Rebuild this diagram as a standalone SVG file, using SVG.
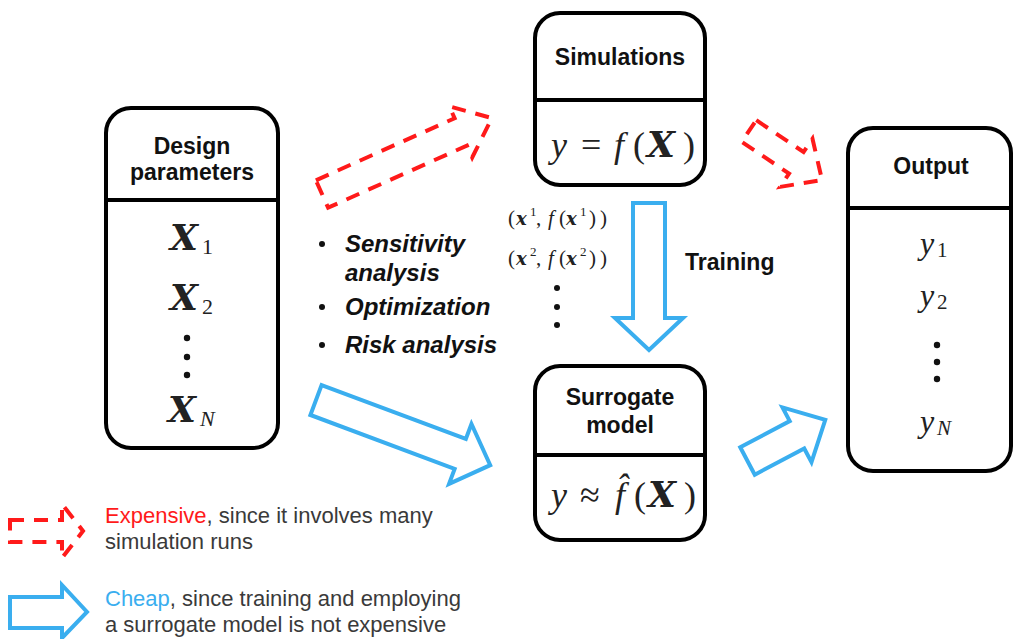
<svg xmlns="http://www.w3.org/2000/svg" width="1013" height="639" viewBox="0 0 1013 639">
<style>
.box{fill:#fff;stroke:#000;stroke-width:4}
.div{stroke:#000;stroke-width:4}
.title{font-family:"Liberation Sans",Arial,sans-serif;font-weight:bold;font-size:23px;fill:#111;text-anchor:middle}
.lbl{font-family:"Liberation Sans",Arial,sans-serif;font-weight:bold;font-size:23px;fill:#111}
.math{font-family:"Liberation Serif","Times New Roman",serif;fill:#222}
.bx{font-family:"DejaVu Serif",serif;font-weight:bold;font-style:italic}
.it{font-style:italic}
.red{fill:none;stroke:#ff1a1a;stroke-width:4;stroke-dasharray:14 10}
.blue{fill:#fff;stroke:#3aaeef;stroke-width:4;stroke-linejoin:miter}
.bul{font-family:"Liberation Sans",Arial,sans-serif;font-weight:bold;font-style:italic;font-size:24px;fill:#111}
.leg{font-family:"Liberation Sans",Arial,sans-serif;font-size:22px;fill:#3a3a3a}
</style>
<rect width="1013" height="639" fill="#fff"/>
<g id="connectors">
  <path class="red" transform="translate(322,194) rotate(-24.1)" d="M0,-15 H152 V-28 L186,0 L152,28 V15 H0 Z"/>
  <path class="red" transform="translate(749,131) rotate(33.9)" d="M0,-13 H57 V-29 L88,0 L57,29 V13 H0 Z"/>
  <path class="blue" transform="translate(316,400) rotate(20.5)" d="M0,-16 H154 V-32 L186,0 L154,32 V16 H0 Z"/>
  <path class="blue" d="M633,203 H665 V318 H683 L649,350 L615,318 H633 Z"/>
  <path class="blue" transform="translate(747.5,461) rotate(-27.9)" d="M0,-15.5 H56 V-31 L88,0 L56,31 V15.5 H0 Z"/>
</g>
<g id="design">
  <rect class="box" x="106" y="108" width="172" height="340" rx="25"/>
  <line class="div" x1="106" y1="200" x2="278" y2="200"/>
  <text class="title" x="192" y="154">Design</text>
  <text class="title" x="192" y="180">parameters</text>
  <text class="math" y="250" font-size="22"><tspan class="bx" x="170" font-size="36">X</tspan><tspan x="202" y="254">1</tspan></text>
  <text class="math" y="310" font-size="22"><tspan class="bx" x="170" font-size="36">X</tspan><tspan x="202" y="314">2</tspan></text>
  <circle cx="187" cy="338" r="3.2" fill="#111"/>
  <circle cx="187" cy="357" r="3.2" fill="#111"/>
  <circle cx="187" cy="375" r="3.2" fill="#111"/>
  <text class="math" y="422" font-size="22"><tspan class="bx" x="168" font-size="36">X</tspan><tspan class="it" x="200" y="426">N</tspan></text>
</g>
<g id="simulations">
  <rect class="box" x="535" y="13" width="170" height="172" rx="25"/>
  <line class="div" x1="535" y1="100" x2="705" y2="100"/>
  <text class="title" x="620" y="65">Simulations</text>
  <text class="math" y="157" font-size="36"><tspan class="it" x="551">y</tspan><tspan x="581">=</tspan><tspan class="it" x="614">f</tspan><tspan x="633">(</tspan><tspan class="bx" x="647" font-size="36">X</tspan><tspan x="683">)</tspan></text>
</g>
<g id="surrogate">
  <rect class="box" x="535" y="366" width="170" height="174" rx="25"/>
  <line class="div" x1="535" y1="455" x2="705" y2="455"/>
  <text class="title" x="620" y="405">Surrogate</text>
  <text class="title" x="620" y="433">model</text>
  <text class="math" y="507" font-size="36"><tspan class="it" x="551">y</tspan><tspan x="580">≈</tspan><tspan class="it" x="615">f̂</tspan><tspan x="634">(</tspan><tspan class="bx" x="648" font-size="36">X</tspan><tspan x="684">)</tspan></text>
</g>
<g id="output">
  <rect class="box" x="848" y="128" width="163" height="343" rx="25"/>
  <line class="div" x1="848" y1="208" x2="1011" y2="208"/>
  <text class="title" x="931" y="174">Output</text>
  <text class="math" y="254" font-size="32"><tspan class="it" x="920">y</tspan><tspan x="937" y="257" font-size="21">1</tspan></text>
  <text class="math" y="306" font-size="32"><tspan class="it" x="920">y</tspan><tspan x="937" y="309" font-size="21">2</tspan></text>
  <circle cx="937" cy="345" r="3.2" fill="#111"/>
  <circle cx="937" cy="362" r="3.2" fill="#111"/>
  <circle cx="937" cy="379" r="3.2" fill="#111"/>
  <text class="math" y="432" font-size="32"><tspan class="it" x="920">y</tspan><tspan class="it" x="937" y="435" font-size="21">N</tspan></text>
</g>
<g id="training-data">
  <text class="math" y="225" font-size="21"><tspan x="508">(</tspan><tspan class="bx" x="516" font-size="18">x</tspan><tspan x="530" y="216" font-size="13">1</tspan><tspan x="536" y="225">,</tspan><tspan class="it" x="548">f</tspan><tspan x="559">(</tspan><tspan class="bx" x="566" font-size="18">x</tspan><tspan x="580" y="216" font-size="13">1</tspan><tspan x="589" y="225">)</tspan><tspan x="600">)</tspan></text>
  <text class="math" y="265" font-size="21"><tspan x="508">(</tspan><tspan class="bx" x="516" font-size="18">x</tspan><tspan x="530" y="256" font-size="13">2</tspan><tspan x="536" y="265">,</tspan><tspan class="it" x="548">f</tspan><tspan x="559">(</tspan><tspan class="bx" x="566" font-size="18">x</tspan><tspan x="580" y="256" font-size="13">2</tspan><tspan x="589" y="265">)</tspan><tspan x="600">)</tspan></text>
  <circle cx="557" cy="288" r="3" fill="#111"/>
  <circle cx="557" cy="307" r="3" fill="#111"/>
  <circle cx="557" cy="325" r="3" fill="#111"/>
</g>
<g id="training-label">
  <text class="lbl" x="685" y="270">Training</text>
</g>
<g id="applications">
  <circle cx="322" cy="244" r="3" fill="#111"/>
  <text class="bul" x="345" y="252">Sensitivity</text>
  <text class="bul" x="345" y="281">analysis</text>
  <circle cx="322" cy="307" r="3" fill="#111"/>
  <text class="bul" x="345" y="315">Optimization</text>
  <circle cx="322" cy="345" r="3" fill="#111"/>
  <text class="bul" x="345" y="353">Risk analysis</text>
</g>
<g id="legend">
  <path class="red" d="M10,520 H62 V504 L83,531 L62,558 V542 H10 Z"/>
  <text class="leg" x="105" y="523"><tspan fill="#ff1a1a">Expensive</tspan>, since it involves many</text>
  <text class="leg" x="105" y="549">simulation runs</text>
  <path class="blue" d="M10,597 H62 V585 L87,612 L62,638 V628 H10 Z"/>
  <text class="leg" x="105" y="606"><tspan fill="#3aaeef">Cheap</tspan>, since training and employing</text>
  <text class="leg" x="105" y="632">a surrogate model is not expensive</text>
</g>
</svg>
